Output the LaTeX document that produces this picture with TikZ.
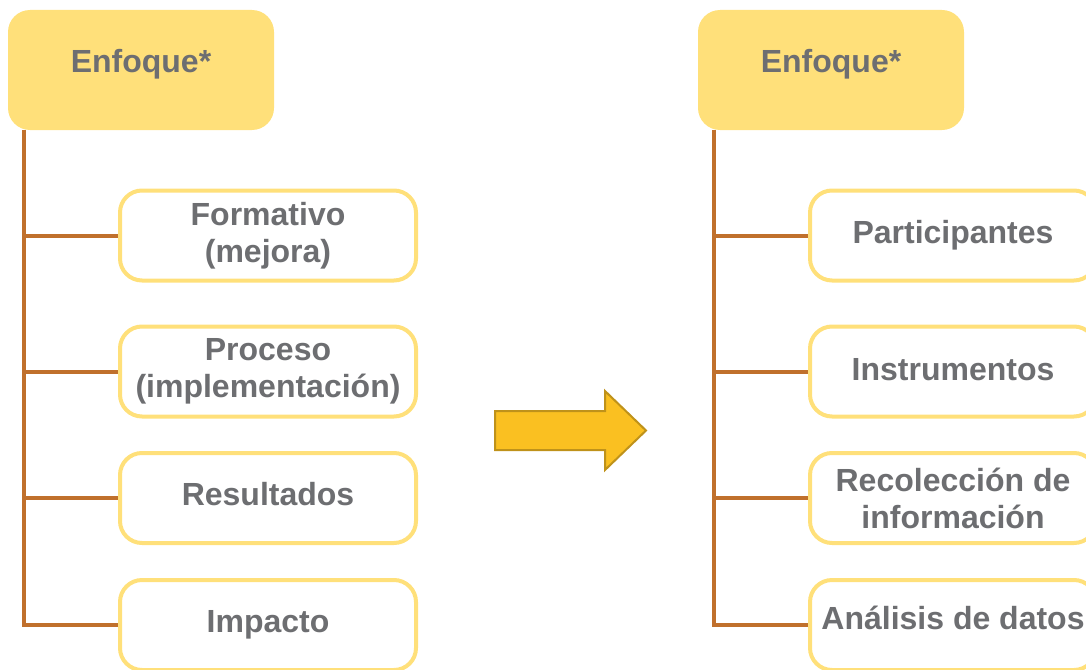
\documentclass[tikz,border=0pt]{standalone}
\usepackage{fontspec}
\setmainfont{Liberation Sans}
\definecolor{boxyellow}{HTML}{FFE07A}
\definecolor{txtgray}{HTML}{6D6E71}
\definecolor{connbrown}{HTML}{C0702C}
\definecolor{arrowfill}{HTML}{FAC021}
\definecolor{arrowedge}{HTML}{BF921A}
\tikzset{
  headbox/.style={fill=boxyellow, draw=none, rounded corners=22pt, minimum width=266pt, minimum height=120pt, inner sep=0pt},
  headtext/.style={text=txtgray, font=\bfseries\fontsize{32}{37}\selectfont, inner sep=0pt},
  childbox/.style={fill=white, draw=boxyellow, line width=4pt, rounded corners=22pt, minimum height=90pt, inner sep=0pt, text=txtgray, align=center, font=\bfseries\fontsize{32}{37}\selectfont},
  oneline/.style={text height=24pt, text depth=#1},
  oneline/.default=9pt,
  conn/.style={draw=connbrown, line width=4pt}
}
\begin{document}
\begin{tikzpicture}[x=1pt,y=-1pt]
\useasboundingbox (0,0) rectangle (1086,669);
% left tree
\node[headbox] (hL) at (141,70) {};
\node[headtext] (hLt) at (141,64) {Enfoque*};
\node[childbox, minimum width=296pt] (c1) at (268,235.5) {Formativo\\(mejora)};
\node[childbox, minimum width=296pt] (c2) at (268,371.5) {Proceso\\(implementación)};
\node[childbox, minimum width=296pt, oneline] (c3) at (268,498) {Resultados};
\node[childbox, minimum width=296pt, oneline] (c4) at (268,625) {Impacto};
\coordinate (tL) at (24,130);
\draw[conn] (tL) |- (c4.west);
\draw[conn] (tL |- c1.west) -- (c1.west);
\draw[conn] (tL |- c2.west) -- (c2.west);
\draw[conn] (tL |- c3.west) -- (c3.west);
% right tree
\node[headbox] (hR) at (831,70) {};
\node[headtext] (hRt) at (831,64) {Enfoque*};
\node[childbox, minimum width=286pt, oneline=8pt] (d1) at (953,235.5) {Participantes};
\node[childbox, minimum width=286pt, oneline=6pt] (d2) at (953,371.5) {Instrumentos};
\node[childbox, minimum width=286pt] (d3) at (953,498) {Recolección de\\información};
\node[childbox, minimum width=286pt, oneline=15pt] (d4) at (953,625) {Análisis de datos};
\coordinate (tR) at (714,130);
\draw[conn] (tR) |- (d4.west);
\draw[conn] (tR |- d1.west) -- (d1.west);
\draw[conn] (tR |- d2.west) -- (d2.west);
\draw[conn] (tR |- d3.west) -- (d3.west);
% big arrow
\draw[fill=arrowfill, draw=arrowedge, line width=2pt, line join=miter]
  (495,411) -- (605,411) -- (605,391) -- (646,430.5) -- (605,470) -- (605,450) -- (495,450) -- cycle;
\end{tikzpicture}
\end{document}
